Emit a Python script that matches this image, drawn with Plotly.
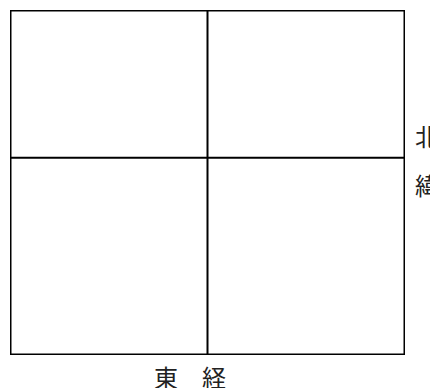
import plotly.graph_objects as go

# grid edges (longitude columns, latitude rows)
lon_edges = [0, 1, 2]
lat_edges = [0, 4, 7]
lat_label = ["北", "緯"]
lon_label = "東　経"

fig = go.Figure()

x0, x1 = lon_edges[0], lon_edges[-1]
y0, y1 = lat_edges[0], lat_edges[-1]

# outer box
fig.add_trace(go.Scatter(
    x=[x0, x1, x1, x0, x0], y=[y0, y0, y1, y1, y0],
    mode="lines", line=dict(color="black", width=3),
    cliponaxis=False, hoverinfo="skip", showlegend=False))

# inner dividers
for xv in lon_edges[1:-1]:
    fig.add_trace(go.Scatter(
        x=[xv, xv], y=[y0, y1], mode="lines",
        line=dict(color="black", width=2), cliponaxis=False,
        hoverinfo="skip", showlegend=False))
for yv in lat_edges[1:-1]:
    fig.add_trace(go.Scatter(
        x=[x0, x1], y=[yv, yv], mode="lines",
        line=dict(color="black", width=2), cliponaxis=False,
        hoverinfo="skip", showlegend=False))

font = dict(family="Noto Sans CJK JP", size=24, color="#222")
fig.add_annotation(x=1.02, y=0.635, xref="paper", yref="paper", text=lat_label[0],
                   showarrow=False, xanchor="left", yanchor="middle", font=font)
fig.add_annotation(x=1.02, y=0.493, xref="paper", yref="paper", text=lat_label[1],
                   showarrow=False, xanchor="left", yanchor="middle", font=font)
fig.add_annotation(x=0.456, y=-0.061, xref="paper", yref="paper", text=lon_label,
                   showarrow=False, xanchor="center", yanchor="middle", font=font)

fig.update_xaxes(range=[x0, x1], visible=False, fixedrange=True)
fig.update_yaxes(range=[y0, y1], visible=False, fixedrange=True)
# page body has an 8px default margin, so the figure is 8px smaller
fig.update_layout(
    width=430, height=380,
    margin=dict(l=2, r=33, t=2, b=33),
    paper_bgcolor="white", plot_bgcolor="white",
    showlegend=False,
)

fig.write_html("out.html")
